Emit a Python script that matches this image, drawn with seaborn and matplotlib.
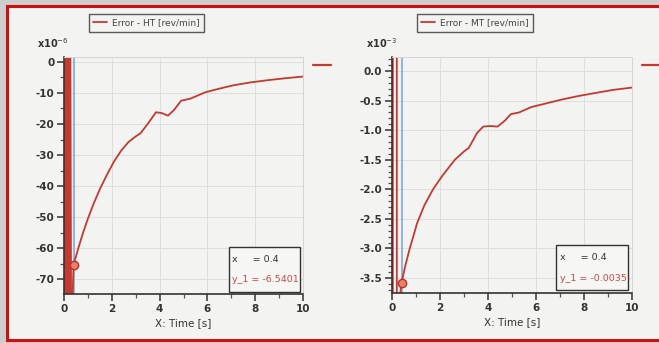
import numpy as np
import pandas as pd
import seaborn as sns
import matplotlib.pyplot as plt
from matplotlib.patches import Rectangle
from matplotlib.lines import Line2D
from matplotlib.ticker import MultipleLocator

# left panel: Error - HT [rev/min], values in units of 1e-6
ht_time = [0, 0.04, 0.07, 0.10, 0.13, 0.16, 0.19, 0.22, 0.25, 0.30, 0.4, 0.6, 0.8, 1.0, 1.25, 1.5, 1.8,
           2.1, 2.4, 2.7, 3.0, 3.2, 3.5, 3.85, 4.1, 4.35, 4.6, 4.9, 5.3, 5.9, 6.5, 7.1, 7.8, 8.5, 9.2, 10]
ht_error = [0, -300, 50, -300, 50, -300, 50, -300, 50, -90, -65.4, -60, -55, -50.5, -45.5, -41, -36.3,
            -32, -28.5, -25.8, -24, -23, -20, -16.2, -16.5, -17.3, -15.5, -12.5, -11.8, -9.8, -8.6,
            -7.5, -6.6, -5.9, -5.3, -4.7]

# right panel: Error - MT [rev/min], values in units of 1e-3
mt_time = [0, 0.02, 0.05, 0.19, 0.21, 0.30, 0.4, 0.55, 0.74, 0.9, 1.04, 1.35, 1.71, 2.1, 2.62, 3.0, 3.2,
           3.54, 3.8, 4.1, 4.4, 4.7, 4.95, 5.3, 5.8, 6.4, 7.1, 7.8, 8.5, 9.2, 10]
mt_error = [0, -40, 40, 40, -40, -3.9, -3.58, -3.3, -3.0, -2.78, -2.58, -2.27, -2.0, -1.77, -1.5, -1.36,
            -1.3, -1.05, -0.94, -0.93, -0.94, -0.84, -0.73, -0.70, -0.61, -0.55, -0.48, -0.42, -0.37,
            -0.32, -0.28]

cursor_x = 0.4
ht_cursor = -65.4
mt_cursor = -3.58

line_red = "#c23a32"
blue = "#7fa9d6"

sns.set_theme(style="ticks")
plt.rcParams["font.family"] = ["DejaVu Sans"]

fig = plt.figure(figsize=(6.59, 3.43), dpi=100, facecolor="#cdcdcd")
W, H = 659, 343

# outer red frame
fig.add_artist(Rectangle((7 / W, 3 / H), 1.0, 1 - 9 / H, transform=fig.transFigure,
                         facecolor="#f3f3f1", edgecolor="#cc1111", lw=2.2, zorder=0))


def panel(rect, t, e, cx, cy, ylim, major, minor, legend_text, expo, yfmt, info_y, box_rect, leg_x, exp_x):
    ax = fig.add_axes(rect)
    ax.set_facecolor("none")
    df = pd.DataFrame({"t": t, "e": e})
    sns.lineplot(data=df, x="t", y="e", ax=ax, color=line_red, lw=1.3, sort=False,
                 estimator=None, label=legend_text)
    ax.axvline(cx, color=blue, lw=1.2, zorder=1)
    ax.plot([cx], [cy], marker="o", ms=6, mfc="#e8806e", mec="#b83028", mew=1, zorder=5)
    ax.set_xlim(0, 10)
    ax.set_ylim(*ylim)
    ax.xaxis.set_major_locator(MultipleLocator(2))
    ax.xaxis.set_minor_locator(MultipleLocator(1))
    ax.yaxis.set_major_locator(MultipleLocator(major))
    ax.yaxis.set_minor_locator(MultipleLocator(minor))
    ax.yaxis.set_major_formatter(yfmt)
    ax.grid(True, which="major", color="#dedede", lw=0.7)
    for s in ["top", "right"]:
        ax.spines[s].set_color("#d4d4d4")
        ax.spines[s].set_linewidth(0.7)
    for s in ["left", "bottom"]:
        ax.spines[s].set_color("#333333")
        ax.spines[s].set_linewidth(1.2)
    ax.tick_params(which="major", length=5, width=1.1, color="#333333", labelsize=7.5,
                   labelcolor="#333333", pad=2)
    ax.tick_params(which="minor", length=3, width=0.9, color="#555555")
    for lab in ax.get_xticklabels() + ax.get_yticklabels():
        lab.set_fontweight("bold")
    ax.set_xlabel("X: Time [s]", fontsize=7.5, color="#333333", labelpad=3)
    ax.set_ylabel("")

    leg = ax.legend(loc="upper left", bbox_to_anchor=(leg_x / W, 1 - 9 / H),
                    bbox_transform=fig.transFigure, fontsize=6.5, handlelength=1.6,
                    frameon=True, fancybox=False, borderpad=0.5, handletextpad=0.5)
    leg.get_frame().set_edgecolor("#333333")
    leg.get_frame().set_facecolor("#f3f3f1")
    leg.get_frame().set_linewidth(1.0)
    for txt in leg.get_texts():
        txt.set_color("#444444")

    fig.text(exp_x / W, 1 - 43 / H, "x10$^{" + expo + "}$", fontsize=7, fontweight="bold",
             color="#333333", va="center")

    bx0, by0, bw, bh = box_rect
    ax.add_patch(Rectangle((bx0, by0), bw, bh, transform=ax.transAxes, facecolor="#f6f6f4",
                           edgecolor="#333333", lw=1.0, zorder=6))
    ax.text(bx0 + 0.015, by0 + bh * 0.72, "x     = 0.4", transform=ax.transAxes, fontsize=6.8,
            color="#333333", va="center", zorder=7)
    ax.text(bx0 + 0.015, by0 + bh * 0.27, info_y, transform=ax.transAxes, fontsize=6.8,
            color="#c84a45", va="center", zorder=7)
    return ax


fmt_int = lambda v, p: f"{v:.0f}"
fmt_one = lambda v, p: f"{v:.1f}"

panel([64 / W, 49 / H, 239 / W, 237 / H], ht_time, ht_error, cursor_x, ht_cursor,
      (-74.8, 1.6), 10, 5, "Error - HT [rev/min]", "-6", plt.FuncFormatter(fmt_int),
      "y_1 = -6.5401", (0.69, 0.008, 0.297, 0.19), 84, 37)
panel([392 / W, 50 / H, 240 / W, 236 / H], mt_time, mt_error, cursor_x, mt_cursor,
      (-3.754, 0.237), 0.5, 0.1, "Error - MT [rev/min]", "-3", plt.FuncFormatter(fmt_one),
      "y_1 = -0.0035", (0.683, 0.012, 0.30, 0.19), 412, 366)

# stray legend dashes from neighbouring panels
fig.add_artist(Line2D([313 / W, 331 / W], [1 - 65 / H] * 2, transform=fig.transFigure,
                      color=line_red, lw=1.6))
fig.add_artist(Line2D([642 / W, 1.0], [1 - 65 / H] * 2, transform=fig.transFigure,
                      color=line_red, lw=1.6))

fig.savefig("out.png", dpi=100, facecolor=fig.get_facecolor())
